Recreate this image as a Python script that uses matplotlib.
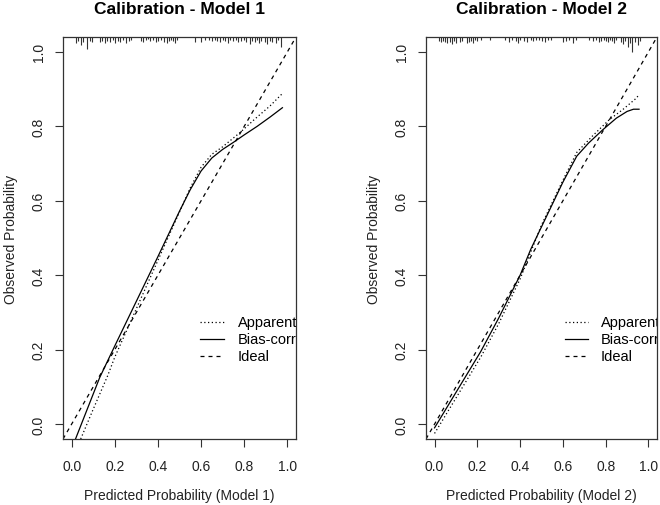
import matplotlib
matplotlib.use("Agg")
import matplotlib.pyplot as plt

plt.rcParams['font.family'] = ['Liberation Sans', 'DejaVu Sans']

# ---------------- data ----------------
titles = ["Calibration - Model 1", "Calibration - Model 2"]
xlabels = ["Predicted Probability (Model 1)", "Predicted Probability (Model 2)"]
ylabel = "Observed Probability"
ticks = [0.0, 0.2, 0.4, 0.6, 0.8, 1.0]
tick_labels = ["0.0", "0.2", "0.4", "0.6", "0.8", "1.0"]
legend_labels = ["Apparent", "Bias-corr", "Ideal"]

m1_app_x = [0.042, 0.10, 0.167, 0.20, 0.30, 0.40, 0.50, 0.55, 0.60, 0.65, 0.70, 0.78, 0.85, 0.92, 0.98]
m1_app_y = [-0.04, 0.04, 0.13, 0.18, 0.31, 0.44, 0.57, 0.635, 0.69, 0.725, 0.745, 0.783, 0.82, 0.855, 0.89]
m1_bc_x = [0.018, 0.13, 0.20, 0.30, 0.40, 0.50, 0.55, 0.60, 0.65, 0.70, 0.75, 0.80, 0.86, 0.92, 0.977]
m1_bc_y = [-0.04, 0.125, 0.21, 0.33, 0.45, 0.572, 0.63, 0.68, 0.715, 0.738, 0.757, 0.777, 0.80, 0.825, 0.85]

m2_app_x = [0.0, 0.10, 0.216, 0.30, 0.40, 0.50, 0.60, 0.665, 0.74, 0.817, 0.88, 0.942, 0.956]
m2_app_y = [-0.025, 0.07, 0.18, 0.27, 0.39, 0.535, 0.655, 0.73, 0.775, 0.818, 0.845, 0.875, 0.885]
m2_bc_x = [0.0, 0.10, 0.216, 0.30, 0.40, 0.45, 0.525, 0.60, 0.665, 0.72, 0.785, 0.85, 0.90, 0.93, 0.956]
m2_bc_y = [-0.01, 0.085, 0.195, 0.285, 0.40, 0.47, 0.56, 0.65, 0.72, 0.755, 0.79, 0.822, 0.840, 0.846, 0.846]

# rug of predicted probabilities (position, tick length in px)
m1_rug_x = [0.02, 0.03, 0.045, 0.055, 0.07, 0.085, 0.095, 0.13, 0.14, 0.155, 0.165, 0.18, 0.19, 0.20,
            0.215, 0.225, 0.24, 0.25, 0.265, 0.275, 0.32, 0.33, 0.345, 0.355, 0.365, 0.375, 0.39, 0.40,
            0.415, 0.43, 0.44, 0.45, 0.46, 0.47, 0.48, 0.49, 0.57, 0.60, 0.62, 0.635, 0.65, 0.665, 0.675,
            0.69, 0.70, 0.71, 0.725, 0.735, 0.75, 0.76, 0.77, 0.785, 0.80, 0.81, 0.825, 0.835, 0.85, 0.86,
            0.87, 0.88, 0.895, 0.905, 0.92, 0.93, 0.945, 0.955, 0.97]
m1_rug_h = [6, 4, 8, 5, 12, 4, 5, 5, 4, 6, 4, 5, 3, 6,
            4, 5, 3, 6, 4, 3, 4, 5, 3, 2, 4, 3, 5, 4,
            3, 5, 6, 4, 3, 4, 6, 3, 5, 5, 3, 3, 4, 3, 4,
            5, 3, 4, 6, 3, 4, 3, 5, 4, 3, 5, 7, 4, 5, 3,
            6, 4, 5, 7, 4, 5, 6, 3, 10]
m2_rug_x = [0.02, 0.03, 0.04, 0.05, 0.06, 0.07, 0.08, 0.09, 0.10, 0.12, 0.13, 0.15, 0.16, 0.17, 0.18,
            0.19, 0.20, 0.215, 0.26, 0.33, 0.35, 0.36, 0.38, 0.39, 0.40, 0.42, 0.43, 0.45, 0.46, 0.475,
            0.49, 0.50, 0.515, 0.53, 0.545, 0.60, 0.615, 0.63, 0.645, 0.66, 0.72, 0.74, 0.755, 0.77,
            0.78, 0.79, 0.80, 0.81, 0.82, 0.83, 0.84, 0.85, 0.87, 0.88, 0.89, 0.905, 0.915, 0.925,
            0.935, 0.95, 0.96]
m2_rug_h = [4, 5, 4, 5, 6, 5, 7, 4, 6, 5, 4, 6, 5, 4, 6,
            3, 4, 3, 3, 3, 5, 3, 4, 6, 3, 4, 5, 3, 4, 3,
            3, 4, 5, 3, 3, 5, 4, 3, 6, 3, 3, 4, 3, 5,
            4, 3, 4, 5, 3, 4, 6, 3, 5, 7, 4, 10, 6, 15,
            5, 8, 4]

panels = [
    (m1_app_x, m1_app_y, m1_bc_x, m1_bc_y, m1_rug_x, m1_rug_h),
    (m2_app_x, m2_app_y, m2_bc_x, m2_bc_y, m2_rug_x, m2_rug_h),
]

# ---------------- layout ----------------
W, H = 660, 506
fig = plt.figure(figsize=(W / 100, H / 100), dpi=100)
axes_px = [(63, 38, 296, 440), (426, 38, 657, 440)]
leg_pos = [(0.588, 0.691, 0.751), (0.602, 0.701, 0.756)]

dotted = (0, (1, 2))
dashed = (0, (3.2, 3.2))

for i, (ax_px, pdata) in enumerate(zip(axes_px, panels)):
    x0, y0, x1, y1 = ax_px
    ax = fig.add_axes([x0 / W, 1 - y1 / H, (x1 - x0) / W, (y1 - y0) / H])
    app_x, app_y, bc_x, bc_y, rug_x, rug_h = pdata
    ax.set_xlim(-0.04, 1.04)
    ax.set_ylim(-0.04, 1.04)

    ax.plot(app_x, app_y, color='black', lw=0.9, linestyle=dotted)
    ax.plot(bc_x, bc_y, color='black', lw=0.9, linestyle='-')
    ax.axline((0, 0), (1, 1), color='black', lw=0.9, linestyle=dashed)

    # rug ticks hanging from the top
    px_per_unit = (y1 - y0) / 1.08
    for rx, rh in zip(rug_x, rug_h):
        ax.plot([rx, rx], [1.04, 1.04 - rh / px_per_unit], color='#333333', lw=0.8,
                solid_capstyle='butt')

    # legend drawn like R's legend(bty='n')
    lx0, lx1, tx = leg_pos[i]
    styles = [dotted, '-', dashed]
    for k, (lab, ls) in enumerate(zip(legend_labels, styles)):
        yy = 0.291 - k * 0.0425
        ax.plot([lx0, lx1], [yy, yy], transform=ax.transAxes, color='black', lw=0.9, linestyle=ls)
        ax.text(tx, yy, lab, transform=ax.transAxes, fontsize=10.5, va='center', ha='left',
                clip_on=True)

    ax.set_xticks(ticks)
    ax.set_xticklabels(tick_labels)
    ax.set_yticks(ticks)
    ax.set_yticklabels(tick_labels, rotation=90, va='center')
    ax.tick_params(axis='both', direction='out', length=5.5, width=0.8, labelsize=10,
                   color='#333333', labelcolor='#222222')
    ax.tick_params(axis='x', pad=9)
    ax.tick_params(axis='y', pad=7)
    for sp in ax.spines.values():
        sp.set_linewidth(0.9)
        sp.set_color('#333333')

    ax.set_xlabel(xlabels[i], fontsize=10, labelpad=11, color='#222222')
    ax.set_ylabel(ylabel, fontsize=10, labelpad=10, color='#222222')
    ax.set_title(titles[i], fontsize=12.5, fontweight='bold', pad=17)

fig.savefig("out.png", dpi=100)
